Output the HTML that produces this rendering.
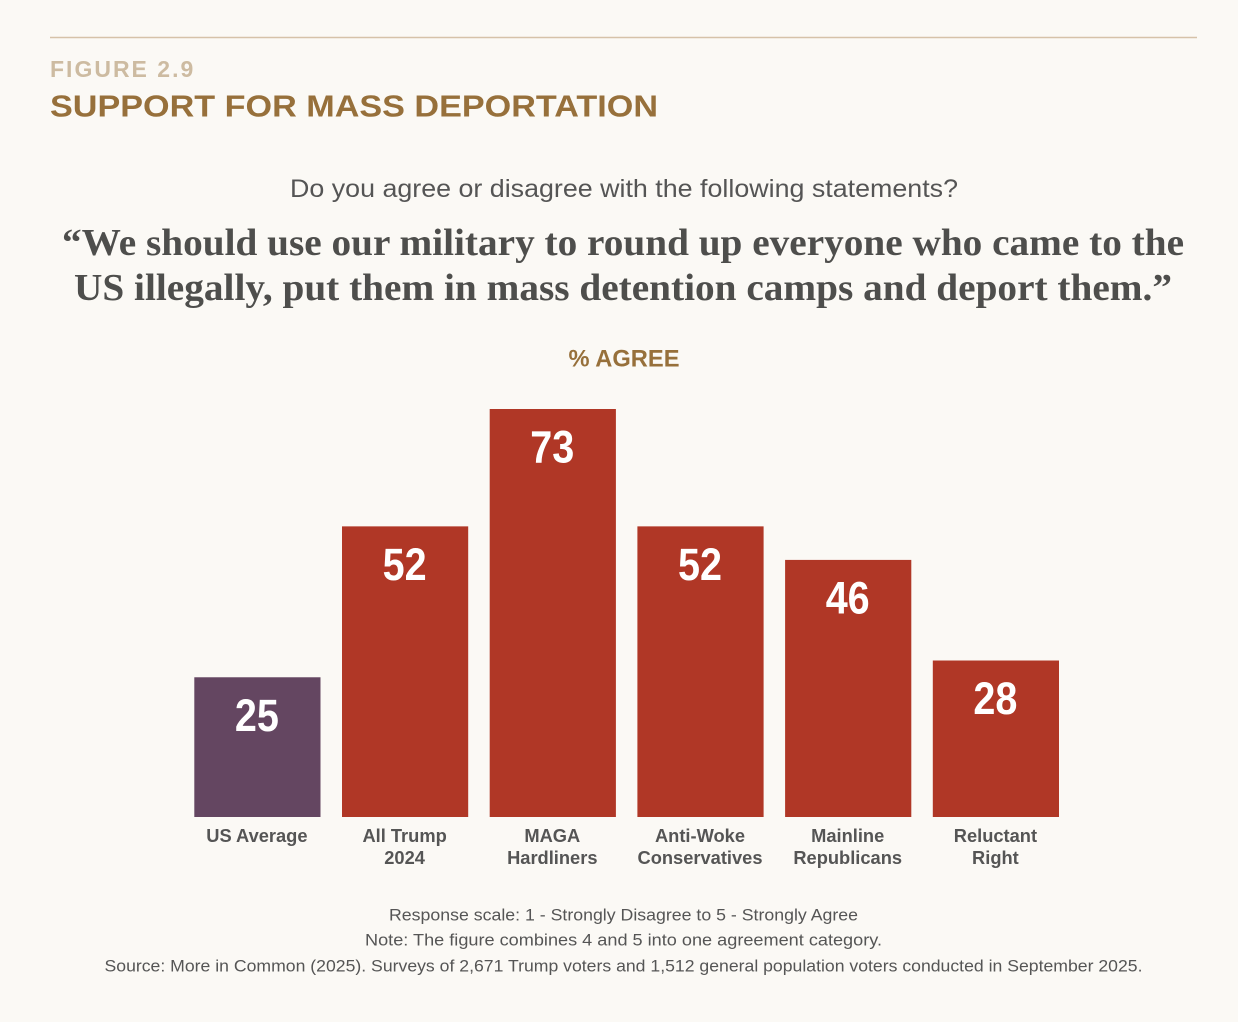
<!DOCTYPE html>
<html>
<head>
<meta charset="utf-8">
<style>
html,body{margin:0;padding:0;background:#fbf9f5;}
#stage{position:relative;width:1238px;height:1022px;overflow:hidden;background:#fbf9f5;font-family:"Liberation Sans",sans-serif;}
svg{position:absolute;left:0;top:0;}
</style>
</head>
<body>
<div id="stage">
<svg id="chart" width="1238" height="1022" viewBox="0 0 1238 1022" xmlns="http://www.w3.org/2000/svg">
<line x1="50" y1="37.5" x2="1197" y2="37.5" stroke="#d6c2a9" stroke-width="1.5"/>
<text x="50" y="77" font-size="23" font-weight="700" letter-spacing="2" fill="#cdbba1">FIGURE 2.9</text>
<text x="50" y="116.5" font-size="31" font-weight="700" fill="#97703b" textLength="608" lengthAdjust="spacingAndGlyphs">SUPPORT FOR MASS DEPORTATION</text>
<text x="624" y="197" text-anchor="middle" font-size="25" fill="#555" textLength="668" lengthAdjust="spacingAndGlyphs">Do you agree or disagree with the following statements?</text>
<text x="623" y="255" text-anchor="middle" font-family="'Liberation Serif',serif" font-size="38" font-weight="700" fill="#4e4e4c" textLength="1122" lengthAdjust="spacingAndGlyphs">“We should use our military to round up everyone who came to the</text>
<text x="623" y="300" text-anchor="middle" font-family="'Liberation Serif',serif" font-size="38" font-weight="700" fill="#4e4e4c" textLength="1098" lengthAdjust="spacingAndGlyphs">US illegally, put them in mass detention camps and deport them.”</text>
<text x="624" y="366.5" text-anchor="middle" font-size="24" font-weight="700" fill="#97703b" textLength="111" lengthAdjust="spacingAndGlyphs">% AGREE</text>
<g id="bars"></g>
<text x="623.5" y="920.5" text-anchor="middle" font-size="17" fill="#555" textLength="469" lengthAdjust="spacingAndGlyphs">Response scale: 1 - Strongly Disagree to 5 - Strongly Agree</text>
<text x="623.5" y="945.5" text-anchor="middle" font-size="17" fill="#555" textLength="517" lengthAdjust="spacingAndGlyphs">Note: The figure combines 4 and 5 into one agreement category.</text>
<text x="623.5" y="971.5" text-anchor="middle" font-size="17" fill="#555" textLength="1038" lengthAdjust="spacingAndGlyphs">Source: More in Common (2025). Surveys of 2,671 Trump voters and 1,512 general population voters conducted in September 2025.</text>
</svg>
</div>
<script>
const categories = [["US Average"], ["All Trump", "2024"], ["MAGA", "Hardliners"], ["Anti-Woke", "Conservatives"], ["Mainline", "Republicans"], ["Reluctant", "Right"]];
const agreeValues = [25, 52, 73, 52, 46, 28];
const barKinds = ["average", "segment", "segment", "segment", "segment", "segment"];

const svgNS = "http://www.w3.org/2000/svg";
const barsGroup = document.getElementById("bars");
const baselineY = 817;
const pxPerUnit = (817 - 409) / 73;
const firstBarX = 194.3;
const barStep = 147.7;
const barWidth = 126.2;
function yScale(v) { return baselineY - v * pxPerUnit; }
function xScale(i) { return firstBarX + i * barStep; }

agreeValues.forEach(function (value, i) {
  const x = xScale(i);
  const y = yScale(value);
  const rect = document.createElementNS(svgNS, "rect");
  rect.setAttribute("x", x);
  rect.setAttribute("y", y);
  rect.setAttribute("width", barWidth);
  rect.setAttribute("height", baselineY - y);
  rect.setAttribute("fill", barKinds[i] === "average" ? "#644661" : "#b03726");
  
  
  barsGroup.appendChild(rect);

  const valueLabel = document.createElementNS(svgNS, "text");
  valueLabel.setAttribute("x", x + barWidth / 2 - 0.5);
  valueLabel.setAttribute("y", y + 53.5);
  valueLabel.setAttribute("text-anchor", "middle");
  valueLabel.setAttribute("font-size", "45");
  valueLabel.setAttribute("font-weight", "700");
  valueLabel.setAttribute("fill", "#ffffff");
  valueLabel.setAttribute("textLength", String(value).length * 22);
  valueLabel.setAttribute("lengthAdjust", "spacingAndGlyphs");
  valueLabel.textContent = value;
  
  
  barsGroup.appendChild(valueLabel);

  categories[i].forEach(function (line, j) {
    const catLabel = document.createElementNS(svgNS, "text");
    catLabel.setAttribute("x", x + barWidth / 2 - 0.5);
    catLabel.setAttribute("y", 842 + j * 22);
    catLabel.setAttribute("text-anchor", "middle");
    catLabel.setAttribute("font-size", "18.3");
    catLabel.setAttribute("font-weight", "700");
    catLabel.setAttribute("fill", "#555555");
    catLabel.textContent = line;
    
    
    barsGroup.appendChild(catLabel);
  });
});
</script>
</body>
</html>
